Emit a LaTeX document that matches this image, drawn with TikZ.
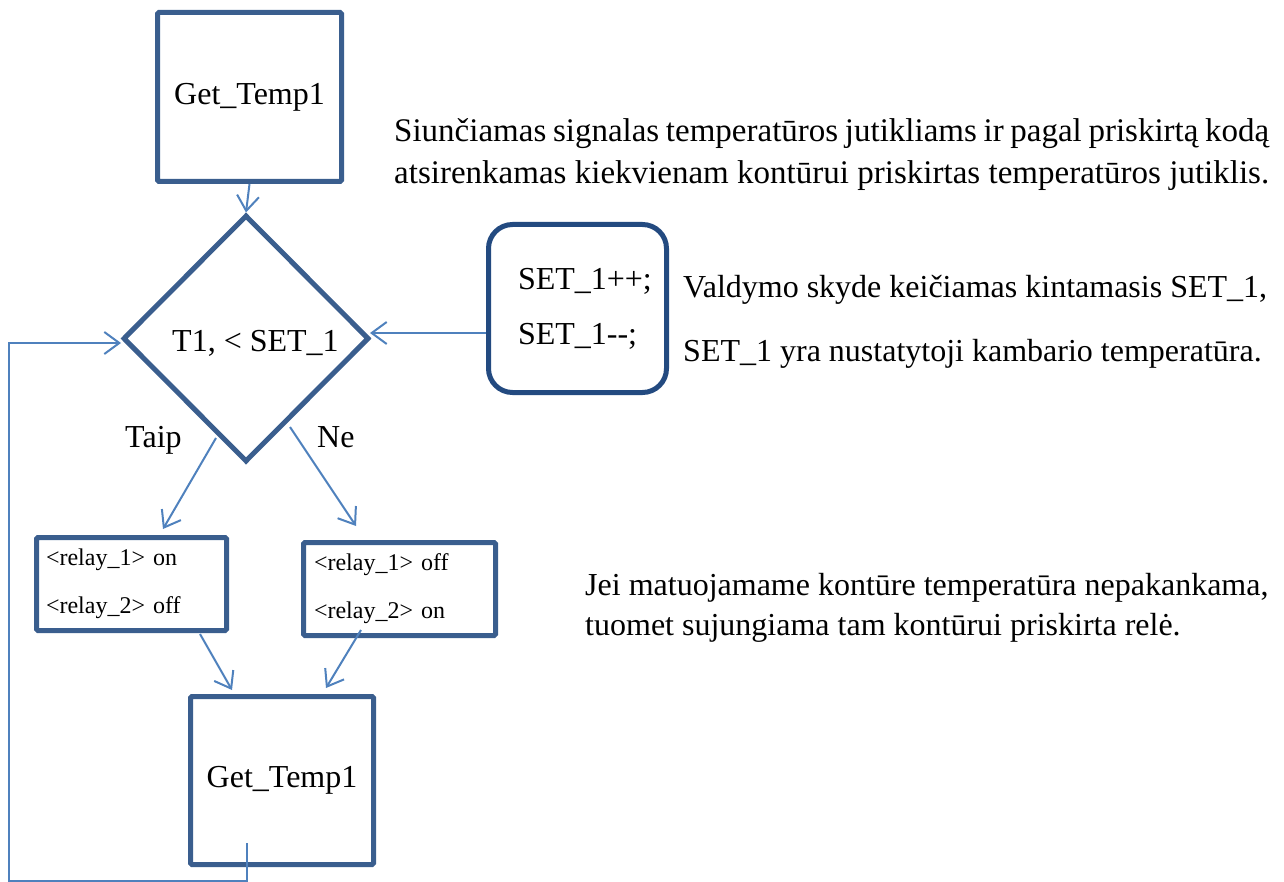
\documentclass[tikz,border=0pt]{standalone}
\usepackage{fontspec}
\setmainfont{Liberation Serif}
\usetikzlibrary{arrows.meta,shapes.geometric}
\definecolor{boxc}{HTML}{3A5E8E}
\definecolor{setc}{HTML}{234A80}
\definecolor{arrc}{HTML}{4F81BD}
\tikzset{
  box/.style={draw=boxc,line width=5pt,rounded corners=1.5pt,inner sep=0pt,align=center,font=\fontsize{32}{38}\selectfont},
  relaybox/.style={draw=boxc,line width=5pt,rounded corners=1.5pt,inner ysep=0pt,align=left,text width=171pt,minimum width=190pt,minimum height=93pt,font=\fontsize{24}{48}\selectfont},
  txt/.style={inner sep=0pt,anchor=base west,font=\fontsize{32}{38}\selectfont},
  bigtxt/.style={txt,font=\fontsize{33}{39}\selectfont},
  arr/.style={draw=arrc,line width=2pt,-{Straight Barb[length=15pt,width=22pt,line width=2pt]}}
}
\begin{document}
\begin{tikzpicture}[x=1pt,y=-1pt]
\useasboundingbox (0,0) rectangle (1284,882);
% boxes
\node[box,minimum width=184pt,minimum height=169pt] (top) at (249.5,97) {Get\_Temp1};
\node[draw=boxc,line width=5pt,diamond,shape aspect=1,inner sep=0pt,minimum width=246pt,minimum height=247pt] (dia) at (246,338.5) {};
\node[txt] (diatext) at (172,352) {T1, < SET\_1};
\node[relaybox,inner xsep=9.5pt] (lbox) at (131.5,584) {<relay\_1> on\\<relay\_2> off};
\node[relaybox,inner xsep=10.5pt] (rbox) at (399.5,589) {<relay\_1> off\\<relay\_2> on};
\node[box,minimum width=183pt,minimum height=168pt] (bot) at (282,780.5) {Get\_Temp1};
\node[draw=setc,line width=5pt,rounded corners=24pt,inner xsep=29.5pt,inner ysep=0pt,text width=119pt,align=left,minimum width=178pt,minimum height=168pt,font=\fontsize{32}{55}\selectfont] (setb) at (577.5,308.5) {\mbox{SET\_1++;}\\\mbox{SET\_1-{}-;}};
% labels
\node[txt] (taip) at (125,447) {Taip};
\node[txt] (ne) at (317,447) {Ne};
\node[bigtxt] (t1) at (394,142) {\hbox to 875pt{Siunčiamas signalas temperatūros jutikliams ir pagal priskirtą kodą}};
\node[bigtxt] (t2) at (394,184) {\hbox to 875pt{atsirenkamas kiekvienam kontūrui priskirtas temperatūros jutiklis.}};
\node[txt] (v1) at (683,298) {Valdymo skyde keičiamas kintamasis SET\_1,};
\node[txt] (v2) at (683,361) {SET\_1 yra nustatytoji kambario temperatūra.};
\node[txt] (j1) at (585,595) {Jei matuojamame kontūre temperatūra nepakankama,};
\node[txt] (j2) at (585,635) {tuomet sujungiama tam kontūrui priskirta relė.};
% connector end points
\coordinate (ts) at (216,438);
\coordinate (te) at (163,529);
\coordinate (ns) at (290,427);
\coordinate (nend) at (356,526);
\coordinate (ls) at (200,634);
\coordinate (le) at (232,690);
\coordinate (rs) at (361,630);
\coordinate (re) at (326,688);
\coordinate (ss) at (486,333);
\coordinate (se) at (370,333);
\coordinate (bs) at (247,843);
\coordinate (c1) at (247,881);
\coordinate (c2) at (9,881);
\coordinate (c3) at (9,343);
\coordinate (de) at (121,343);
% connectors
\draw[arr] (top.south) -- (dia.north);
\draw[arr] (ts) -- (te);
\draw[arr] (ns) -- (nend);
\draw[arr] (ls) -- (le);
\draw[arr] (rs) -- (re);
\draw[arr] (ss) -- (se);
\draw[arr] (bs) -- (c1) -- (c2) -- (c3) -- (de);
\end{tikzpicture}
\end{document}
